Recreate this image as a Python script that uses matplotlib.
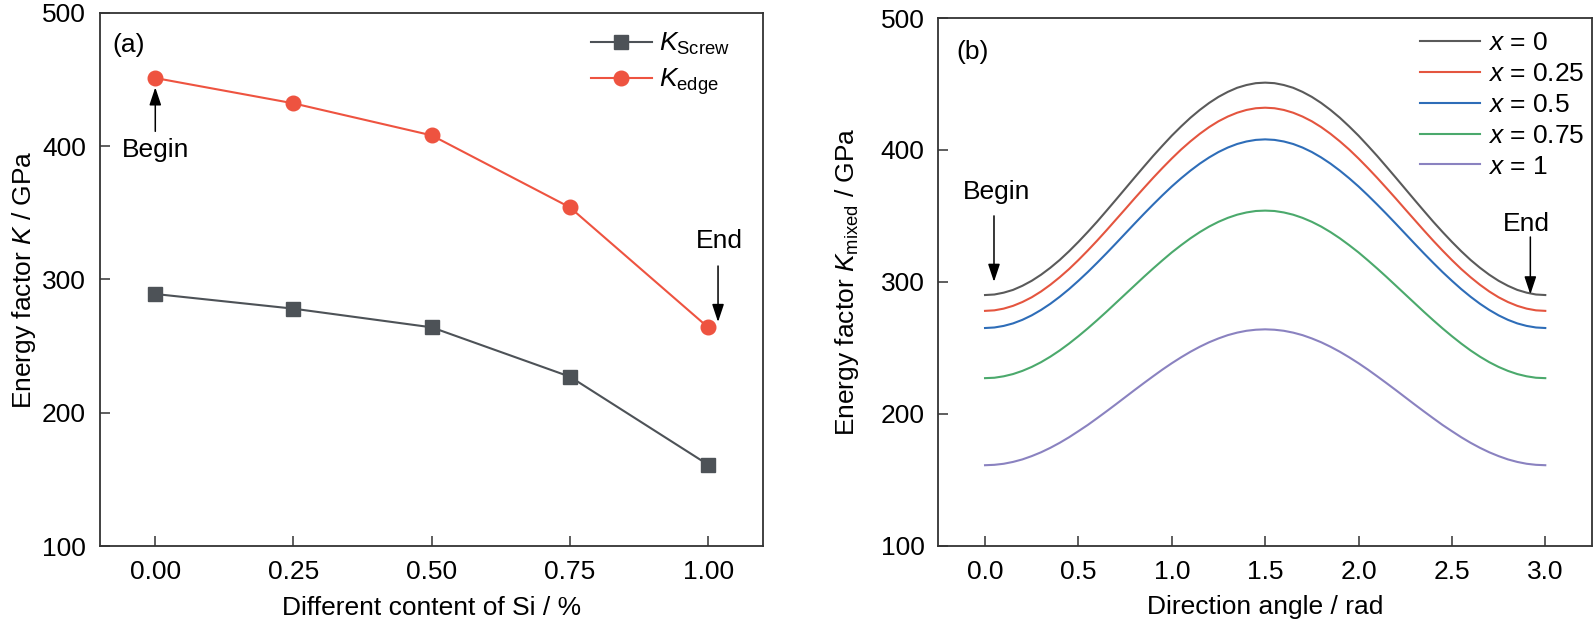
import numpy as np
import matplotlib
matplotlib.use('Agg')
import matplotlib.pyplot as plt

plt.rcParams['font.family'] = 'Liberation Sans'
plt.rcParams['mathtext.fontset'] = 'custom'
plt.rcParams['mathtext.rm'] = 'Liberation Sans'
plt.rcParams['mathtext.it'] = 'Liberation Sans:italic'
plt.rcParams['font.size'] = 19

# panel (a) data
si_content = [0.0, 0.25, 0.5, 0.75, 1.0]
k_screw = [289, 278, 264, 227, 161]
k_edge = [451, 432, 408, 354, 264]

# panel (b) data, read every 0.05 rad
angle = [0.0, 0.05, 0.1, 0.15, 0.2, 0.25, 0.3, 0.35, 0.4, 0.45, 0.5,
         0.55, 0.6, 0.65, 0.7, 0.75, 0.8, 0.85, 0.9, 0.95, 1.0,
         1.05, 1.1, 1.15, 1.2, 1.25, 1.3, 1.35, 1.4, 1.45, 1.5,
         1.55, 1.6, 1.65, 1.7, 1.75, 1.8, 1.85, 1.9, 1.95, 2.0,
         2.05, 2.1, 2.15, 2.2, 2.25, 2.3, 2.35, 2.4, 2.45, 2.5,
         2.55, 2.6, 2.65, 2.7, 2.75, 2.8, 2.85, 2.9, 2.95, 3.0]
k_x0 = [290.0, 290.4, 291.8, 293.9, 297.0, 300.8, 305.4, 310.7, 316.6, 323.2, 330.3,
        337.8, 345.6, 353.8, 362.1, 370.5, 378.9, 387.2, 395.4, 403.2, 410.8,
        417.8, 424.4, 430.3, 435.6, 440.2, 444.0, 447.1, 449.2, 450.6, 451.0,
        450.6, 449.2, 447.1, 444.0, 440.2, 435.6, 430.3, 424.4, 417.8, 410.8,
        403.2, 395.4, 387.2, 378.9, 370.5, 362.1, 353.8, 345.6, 337.8, 330.3,
        323.2, 316.6, 310.7, 305.4, 300.8, 297.0, 293.9, 291.8, 290.4, 290.0]
k_x025 = [278.0, 278.4, 279.7, 281.8, 284.7, 288.3, 292.7, 297.8, 303.5, 309.7, 316.5,
          323.7, 331.2, 339.0, 347.0, 355.0, 363.1, 371.0, 378.8, 386.3, 393.5,
          400.3, 406.5, 412.2, 417.3, 421.7, 425.3, 428.2, 430.3, 431.6, 432.0,
          431.6, 430.3, 428.2, 425.3, 421.7, 417.3, 412.2, 406.5, 400.3, 393.5,
          386.3, 378.8, 371.0, 363.1, 355.0, 347.0, 339.0, 331.2, 323.7, 316.5,
          309.7, 303.5, 297.8, 292.7, 288.3, 284.7, 281.8, 279.7, 278.4, 278.0]
k_x05 = [265.0, 265.4, 266.6, 268.5, 271.2, 274.6, 278.7, 283.4, 288.7, 294.5, 300.8,
         307.4, 314.4, 321.6, 329.0, 336.5, 344.0, 351.4, 358.6, 365.6, 372.3,
         378.5, 384.3, 389.6, 394.3, 398.4, 401.8, 404.5, 406.4, 407.6, 408.0,
         407.6, 406.4, 404.5, 401.8, 398.4, 394.3, 389.6, 384.3, 378.5, 372.3,
         365.6, 358.6, 351.4, 344.0, 336.5, 329.0, 321.6, 314.4, 307.4, 300.8,
         294.5, 288.7, 283.4, 278.7, 274.6, 271.2, 268.5, 266.6, 265.4, 265.0]
k_x075 = [227.0, 227.3, 228.4, 230.1, 232.5, 235.5, 239.1, 243.3, 248.0, 253.2, 258.8,
          264.7, 270.9, 277.3, 283.9, 290.5, 297.1, 303.7, 310.1, 316.3, 322.3,
          327.8, 333.0, 337.7, 341.9, 345.5, 348.5, 350.9, 352.6, 353.7, 354.0,
          353.7, 352.6, 350.9, 348.5, 345.5, 341.9, 337.7, 333.0, 327.8, 322.3,
          316.3, 310.1, 303.7, 297.1, 290.5, 283.9, 277.3, 270.9, 264.7, 258.8,
          253.2, 248.0, 243.3, 239.1, 235.5, 232.5, 230.1, 228.4, 227.3, 227.0]
k_x1 = [161.0, 161.3, 162.1, 163.5, 165.4, 167.9, 170.8, 174.2, 178.0, 182.2, 186.8,
        191.5, 196.6, 201.8, 207.1, 212.5, 217.9, 223.2, 228.4, 233.5, 238.3,
        242.8, 247.0, 250.8, 254.2, 257.1, 259.6, 261.5, 262.9, 263.7, 264.0,
        263.7, 262.9, 261.5, 259.6, 257.1, 254.2, 250.8, 247.0, 242.8, 238.3,
        233.5, 228.4, 223.2, 217.9, 212.5, 207.1, 201.8, 196.6, 191.5, 186.8,
        182.2, 178.0, 174.2, 170.8, 167.9, 165.4, 163.5, 162.1, 161.3, 161.0]
curve_labels = ['$x$ = 0', '$x$ = 0.25', '$x$ = 0.5', '$x$ = 0.75', '$x$ = 1']
curve_colors = ['#5a5a5a', '#e4553f', '#2e6db8', '#4ba96c', '#8a82c0']

fig = plt.figure(figsize=(15.95, 6.25), dpi=100)
ax1 = fig.add_axes([0.0627, 0.1264, 0.4159, 0.8533])
ax2 = fig.add_axes([0.5883, 0.1269, 0.4098, 0.8443])

arrow = dict(arrowstyle='-|>,head_length=0.6,head_width=0.2', color='k', lw=1.1,
             mutation_scale=18, shrinkA=0, shrinkB=0)


def style_axes(ax):
    for s in ax.spines.values():
        s.set_linewidth(1.3)
        s.set_color('#333333')
    ax.tick_params(direction='in', length=7.5, width=1.1, pad=10, color='#333333')
    ax.set_ylim(100, 500)
    ax.set_yticks([100, 200, 300, 400, 500])


# (a)
ax1.plot(si_content, k_screw, color='#4d5257', lw=1.5, marker='s', ms=10,
         label=r'$K_{\mathrm{Screw}}$')
ax1.plot(si_content, k_edge, color='#ee5340', lw=1.5, marker='o', ms=10.5,
         label=r'$K_{\mathrm{edge}}$')
ax1.set_xlim(-0.1, 1.1)
ax1.set_xticks(si_content)
ax1.set_xticklabels(['0.00', '0.25', '0.50', '0.75', '1.00'])
style_axes(ax1)
ax1.set_xlabel('Different content of Si / %', labelpad=9)
ax1.set_ylabel('Energy factor $K$ / GPa', labelpad=3)
ax1.text(0.018, 0.939, '(a)', transform=ax1.transAxes, ha='left', va='center')
ax1.legend(loc='upper left', bbox_to_anchor=(0.72, 0.99), frameon=False,
           borderpad=0, handlelength=2.3, handletextpad=0.3, labelspacing=0.35)
ax1.annotate('', xy=(0.0, 444), xytext=(0.0, 411), arrowprops=arrow)
ax1.text(0.0, 397, 'Begin', ha='center', va='center')
ax1.annotate('', xy=(1.018, 268), xytext=(1.018, 310), arrowprops=arrow)
ax1.text(1.02, 329, 'End', ha='center', va='center')

# (b)
for ys, lab, c in zip([k_x0, k_x025, k_x05, k_x075, k_x1], curve_labels, curve_colors):
    ax2.plot(angle, ys, color=c, lw=1.5, label=lab)
ax2.set_xlim(-0.25, 3.25)
ax2.set_xticks([0.0, 0.5, 1.0, 1.5, 2.0, 2.5, 3.0])
style_axes(ax2)
ax2.set_xlabel('Direction angle / rad', labelpad=8)
ax2.set_ylabel(r'Energy factor $K_{\mathrm{mixed}}$ / GPa', labelpad=14)
ax2.text(0.027, 0.935, '(b)', transform=ax2.transAxes, ha='left', va='center')
ax2.legend(loc='upper left', bbox_to_anchor=(0.716, 1.0), frameon=False,
           borderpad=0, handlelength=2.3, handletextpad=0.3, labelspacing=0.26)
ax2.annotate('', xy=(0.048, 300), xytext=(0.048, 350), arrowprops=arrow)
ax2.text(0.06, 368, 'Begin', ha='center', va='center')
ax2.annotate('', xy=(2.92, 290.5), xytext=(2.92, 334), arrowprops=arrow)
ax2.text(2.90, 344, 'End', ha='center', va='center')

fig.savefig('out.png', dpi=100)
